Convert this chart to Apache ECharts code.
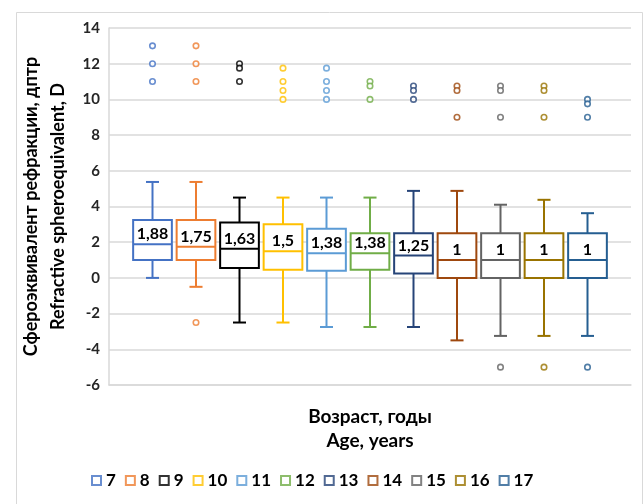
<!DOCTYPE html>
<html>
<head>
<meta charset="utf-8">
<script src="https://cdn.jsdelivr.net/npm/echarts@6/dist/echarts.min.js"></script>
<style>
html,body{margin:0;padding:0;background:#fff;}
#chart{width:643px;height:504px;}
</style>
</head>
<body>
<div id="chart"></div>
<script>
// ---- data ----
const ages = ['7', '8', '9', '10', '11', '12', '13', '14', '15', '16', '17'];
const whiskerLow  = [0,    -0.5,  -2.5, -2.5, -2.75, -2.75, -2.75, -3.5,  -3.25, -3.25, -3.25];
const q1          = [1.0,   1.0,   0.55, 0.45, 0.4,   0.45,  0.25,  0,     0,     0,     0];
const median      = [1.88,  1.75,  1.63, 1.5,  1.38,  1.38,  1.25,  1,     1,     1,     1];
const q3          = [3.25,  3.25,  3.1,  3.0,  2.75,  2.5,   2.5,   2.5,   2.5,   2.5,   2.5];
const whiskerHigh = [5.375, 5.375, 4.5,  4.5,  4.5,   4.5,   4.875, 4.875, 4.1,   4.375, 3.625];
const outliers = [
  [13, 12, 11],
  [13, 12, 11, -2.5],
  [12, 11.75, 11],
  [11.75, 11, 10.5, 10],
  [11.75, 11, 10.5, 10],
  [11, 10.75, 10],
  [10.75, 10.5, 10],
  [10.75, 10.5, 9],
  [10.75, 10.5, 9, -5],
  [10.75, 10.5, 9, -5],
  [10, 9.75, 9, -5]
];
const yTicks = {min: -6, max: 14, interval: 2};
const colors = ['#4472C4', '#ED7D31', '#000000', '#FFC000', '#5B9BD5', '#70AD47',
                '#264478', '#9E480E', '#636363', '#997300', '#255E91'];

const FONT = 'Lato, "Open Sans", "Noto Sans", sans-serif';
const xCats = [' '].concat(ages, ['  ']);

const boxData = ages.map((a, i) => [i + 1, whiskerLow[i], q1[i], median[i], q3[i], whiskerHigh[i]]);
const fmt = v => String(v).replace('.', ',');

function renderBox(params, api) {
  const x = api.value(0);
  const lo = api.coord([x, api.value(1)]);
  const b1 = api.coord([x, api.value(2)]);
  const md = api.coord([x, api.value(3)]);
  const b3 = api.coord([x, api.value(4)]);
  const hi = api.coord([x, api.value(5)]);
  const band = api.size([1, 0])[0];
  const w = band * 0.89;
  const cap = band * 0.3;
  const c = colors[params.dataIndex];
  const st = {stroke: c, lineWidth: 2, fill: null};
  return {
    type: 'group',
    children: [
      {type: 'line', shape: {x1: lo[0], y1: lo[1], x2: lo[0], y2: b1[1]}, style: st},
      {type: 'line', shape: {x1: hi[0], y1: hi[1], x2: hi[0], y2: b3[1]}, style: st},
      {type: 'line', shape: {x1: lo[0] - cap / 2, y1: lo[1], x2: lo[0] + cap / 2, y2: lo[1]}, style: st},
      {type: 'line', shape: {x1: hi[0] - cap / 2, y1: hi[1], x2: hi[0] + cap / 2, y2: hi[1]}, style: st},
      {type: 'rect', shape: {x: md[0] - w / 2, y: b3[1], width: w, height: b1[1] - b3[1]},
        style: {stroke: c, lineWidth: 2, fill: '#fff'}},
      {type: 'line', shape: {x1: md[0] - w / 2, y1: md[1], x2: md[0] + w / 2, y2: md[1]}, style: st},
      {type: 'text', style: {text: fmt(api.value(3)), x: md[0], y: md[1] - 2,
        align: 'center', verticalAlign: 'bottom',
        fontSize: 16, fontWeight: 'bold', fontFamily: FONT, fill: '#000'}}
    ]
  };
}

const series = [{
  type: 'custom',
  name: 'box',
  renderItem: renderBox,
  encode: {x: 0, y: [1, 2, 3, 4, 5]},
  data: boxData,
  z: 2
}];
ages.forEach((a, i) => {
  series.push({
    type: 'scatter',
    name: a,
    symbol: 'circle',
    symbolSize: 5.5,
    itemStyle: {color: '#fff', borderColor: colors[i], borderWidth: 1.6},
    data: outliers[i].map(v => [i + 1, v]),
    z: 3
  });
});

const chart = echarts.init(document.getElementById('chart'));
chart.setOption({
  animation: false,
  backgroundColor: '#fff',
  graphic: [{
    type: 'rect', left: 14, top: 10,
    shape: {x: 0, y: 0, width: 626, height: 520},
    style: {fill: null, stroke: '#d9d9d9', lineWidth: 1}
  }],
  grid: {left: 109, right: 12, top: 28, bottom: 119, containLabel: false},
  xAxis: {
    type: 'category',
    data: xCats,
    boundaryGap: false,
    axisLine: {onZero: false, lineStyle: {color: '#d9d9d9', width: 1.5}},
    axisTick: {show: false},
    axisLabel: {show: false},
    splitLine: {show: false},
    name: 'Возраст, годы\nAge, years',
    nameLocation: 'middle',
    nameGap: 20,
    nameTextStyle: {fontSize: 19, fontWeight: 'bold', fontFamily: FONT, color: '#000', lineHeight: 24}
  },
  yAxis: {
    type: 'value',
    min: yTicks.min, max: yTicks.max, interval: yTicks.interval,
    axisLine: {show: true, lineStyle: {color: '#d9d9d9', width: 1.5}},
    axisTick: {show: false},
    axisLabel: {fontSize: 15, fontWeight: 'bold', fontFamily: FONT, color: '#262626', margin: 9},
    splitLine: {lineStyle: {color: '#d9d9d9', width: 1.5}},
    name: 'Сфероэквивалент рефракции, дптр\nRefractive spheroequivalent, D',
    nameLocation: 'middle',
    nameRotate: 90,
    nameGap: 34,
    nameTextStyle: {fontSize: 18, fontWeight: 'bold', fontFamily: FONT, color: '#000', lineHeight: 27}
  },
  legend: {
    data: ages.map((a, i) => ({name: a, icon: 'rect',
      itemStyle: {color: '#fff', borderColor: colors[i], borderWidth: 2}})),
    left: 86,
    top: 467,
    itemWidth: 9,
    itemHeight: 9,
    itemGap: 9,
    textStyle: {fontSize: 17, fontWeight: 'bold', fontFamily: FONT, color: '#000'}
  },
  series: series
});
</script>
</body>
</html>
